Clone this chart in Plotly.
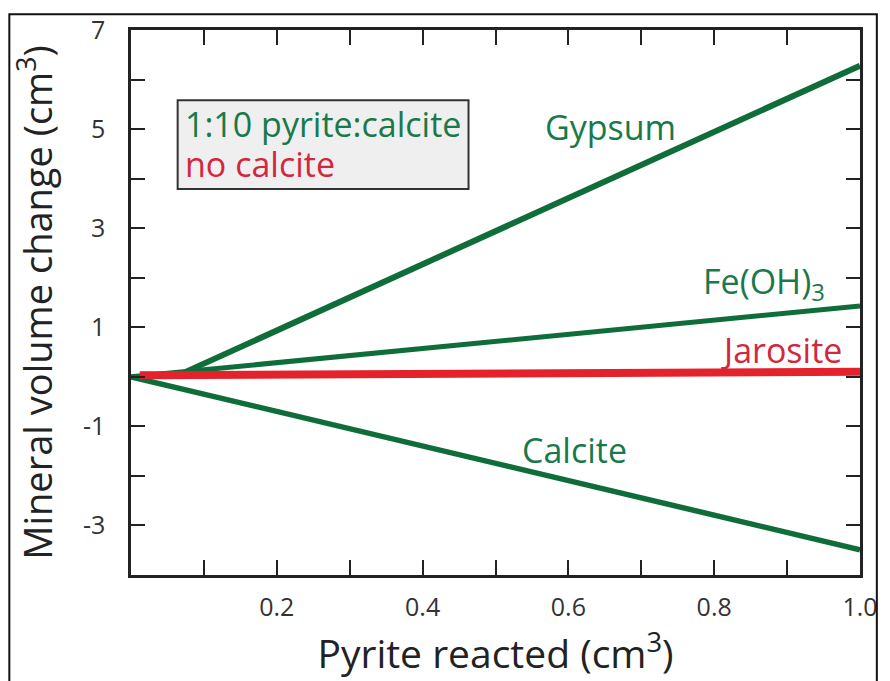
import plotly.graph_objects as go

# Pyrite reacted (cm3) and the resulting mineral volume changes (cm3)
pyrite = [0.0, 1.0]
calcite = [0.0, -3.49]
fe_oh3 = [0.0, 1.43]
gypsum_x = [0.075, 1.0]
gypsum = [0.10, 6.28]
jarosite_x = [0.012, 1.0]
jarosite = [0.03, 0.10]

x_ticks = [round(0.1 * i, 1) for i in range(11)]
x_ticktext = ["", "", "0.2", "", "0.4", "", "0.6", "", "0.8", "", "1.0"]
y_ticks = list(range(-4, 8))
y_ticktext = [str(v) if v % 2 else "" for v in y_ticks]

GREEN = "#0f6d3a"
GREEN_TXT = "#18794a"
RED = "#e3222b"
RED_TXT = "#d2283e"
FONT = "Open Sans"
LABEL_SIZE = 34

fig = go.Figure()
fig.add_trace(go.Scatter(x=pyrite, y=calcite, mode="lines",
                         line=dict(color=GREEN, width=5.5), name="Calcite"))
fig.add_trace(go.Scatter(x=pyrite, y=fe_oh3, mode="lines",
                         line=dict(color=GREEN, width=5), name="Fe(OH)3"))
fig.add_trace(go.Scatter(x=gypsum_x, y=gypsum, mode="lines",
                         line=dict(color=GREEN, width=6), name="Gypsum"))
fig.add_trace(go.Scatter(x=jarosite_x, y=jarosite, mode="lines",
                         line=dict(color=RED, width=8), name="Jarosite"))

axis_common = dict(showline=True, linecolor="#222", linewidth=2.5, mirror="ticks",
                   ticks="inside", tickcolor="#222", tickwidth=2,
                   showgrid=False, zeroline=False,
                   tickfont=dict(family=FONT, size=25, color="#333"))

fig.update_xaxes(range=[0, 1], tickvals=x_ticks, ticktext=x_ticktext, ticklen=15,
                 ticklabelstandoff=8,
                 title=dict(text="Pyrite reacted (cm<sup>3</sup>)", standoff=12,
                            font=dict(family=FONT, size=39, color="#222")),
                 **axis_common)
fig.update_yaxes(range=[-4, 7], tickvals=y_ticks, ticktext=y_ticktext, ticklen=14,
                 ticklabelstandoff=18,
                 title=dict(text="Mineral volume change (cm<sup>3</sup>)", standoff=19,
                            font=dict(family=FONT, size=38, color="#222")),
                 **axis_common)

labels = [
    ("Gypsum", 0.658, 5.04, GREEN_TXT),
    ("Fe(OH)<sub>3</sub>", 0.868, 1.9, GREEN_TXT),
    ("Jarosite", 0.892, 0.55, RED_TXT),
    ("Calcite", 0.608, -1.48, GREEN_TXT),
]
for text, x, y, color in labels:
    fig.add_annotation(x=x, y=y, text=text, showarrow=False,
                       font=dict(family=FONT, size=LABEL_SIZE, color=color))

# Key box
fig.add_shape(type="rect", xref="x", yref="y", x0=0.064, x1=0.463, y0=3.79, y1=5.58,
              fillcolor="#efefef", line=dict(color="#333", width=2), layer="below")
fig.add_annotation(x=0.072, y=5.10, xanchor="left", text="1:10 pyrite:calcite",
                   showarrow=False, font=dict(family=FONT, size=LABEL_SIZE, color=GREEN_TXT))
fig.add_annotation(x=0.072, y=4.30, xanchor="left", text="no calcite",
                   showarrow=False, font=dict(family=FONT, size=LABEL_SIZE, color=RED_TXT))

# Outer frame around the figure
fig.add_shape(type="rect", xref="paper", yref="paper",
              x0=-0.1669, x1=1.0231, y0=-0.25, y1=1.0289,
              line=dict(color="#111", width=2), fillcolor="rgba(0,0,0,0)")

fig.update_layout(width=890, height=681, showlegend=False,
                  margin=dict(l=131, r=22, t=22, b=106),
                  plot_bgcolor="white", paper_bgcolor="white")

fig.write_html("out.html")
